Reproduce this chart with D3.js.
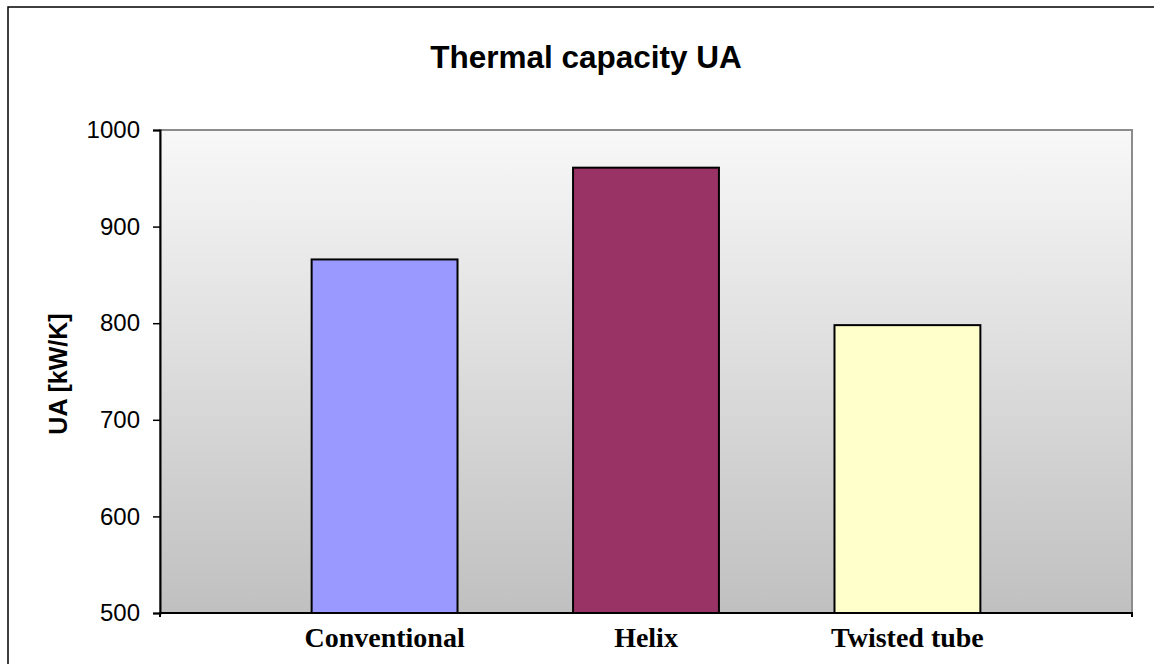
<!DOCTYPE html>
<html>
<head>
<meta charset="utf-8">
<script src="https://cdn.jsdelivr.net/npm/d3@7"></script>
<style>
  html, body { margin: 0; padding: 0; background: #ffffff; }
  svg { display: block; }
</style>
</head>
<body>
<svg id="chart" width="1154" height="664"></svg>
<script>
// Thermal capacity (UA) per heat-exchanger design
const categories = ["Conventional", "Helix", "Twisted tube"];
const uaValues = [866, 961, 798];
const barColors = ["#9999FF", "#993366", "#FFFFCC"];
const yTicks = [500, 600, 700, 800, 900, 1000];

const svg = d3.select("#chart");
const W = 1154, H = 664;
const plot = { left: 160, right: 1132, top: 130, bottom: 613 };

// outer chart frame
svg.append("rect")
  .attr("x", 8).attr("y", 7)
  .attr("width", W + 20).attr("height", H + 20)
  .attr("fill", "#ffffff")
  .attr("stroke", "#000000")
  .attr("stroke-width", 1.5);

// plot area background gradient
const defs = svg.append("defs");
const grad = defs.append("linearGradient")
  .attr("id", "plotBg")
  .attr("x1", 0).attr("y1", 0).attr("x2", 0).attr("y2", 1);
grad.append("stop").attr("offset", "0%").attr("stop-color", "#f8f8f8");
grad.append("stop").attr("offset", "100%").attr("stop-color", "#c0c0c0");

const x = d3.scaleBand()
  .domain(categories)
  .range([plot.left, plot.right])
  .paddingInner(0.442)
  .paddingOuter(0.58);

const y = d3.scaleLinear()
  .domain([500, 1000])
  .range([plot.bottom, plot.top]);

svg.append("rect")
  .attr("x", plot.left).attr("y", plot.top)
  .attr("width", plot.right - plot.left)
  .attr("height", plot.bottom - plot.top)
  .attr("fill", "url(#plotBg)")
  .attr("stroke", "#8c8c8c")
  .attr("stroke-width", 2);

// bars
svg.append("g")
  .selectAll("rect")
  .data(categories)
  .join("rect")
  .attr("x", d => x(d))
  .attr("y", (d, i) => y(uaValues[i]))
  .attr("width", x.bandwidth())
  .attr("height", (d, i) => y(500) - y(uaValues[i]))
  .attr("fill", (d, i) => barColors[i])
  .attr("stroke", "#000000")
  .attr("stroke-width", 2);

// y axis
const yAxis = d3.axisLeft(y)
  .tickValues(yTicks)
  .tickSize(7)
  .tickPadding(13)
  .tickFormat(d3.format("d"));

const gy = svg.append("g")
  .attr("transform", `translate(${plot.left},0)`)
  .call(yAxis);
gy.select(".domain").attr("stroke", "#000").attr("stroke-width", 2);
gy.selectAll(".tick line").attr("stroke", "#000").attr("stroke-width", 1.5);
gy.selectAll(".tick text")
  .attr("font-family", "Arial, 'Liberation Sans', sans-serif")
  .attr("font-size", 24)
  .attr("fill", "#000");

// x axis
const xAxis = d3.axisBottom(x).tickSize(0).tickPadding(14);
const gx = svg.append("g")
  .attr("transform", `translate(0,${plot.bottom})`)
  .call(xAxis);
gx.select(".domain").attr("stroke", "#000").attr("stroke-width", 2)
  .attr("d", `M${plot.left},4V0H${plot.right}V4`);
gx.selectAll(".tick text")
  .attr("font-family", "'Times New Roman', 'Liberation Serif', serif")
  .attr("font-weight", "bold")
  .attr("font-size", 28)
  .attr("fill", "#000");

// title
svg.append("text")
  .attr("x", 586).attr("y", 68)
  .attr("text-anchor", "middle")
  .attr("font-family", "Arial, 'Liberation Sans', sans-serif")
  .attr("font-weight", "bold")
  .attr("font-size", 31.5)
  .attr("fill", "#000")
  .text("Thermal capacity UA");

// y axis title
svg.append("text")
  .attr("transform", "translate(67,374) rotate(-90)")
  .attr("text-anchor", "middle")
  .attr("font-family", "Arial, 'Liberation Sans', sans-serif")
  .attr("font-weight", "bold")
  .attr("font-size", 25)
  .attr("fill", "#000")
  .text("UA [kW/K]");
</script>
</body>
</html>
